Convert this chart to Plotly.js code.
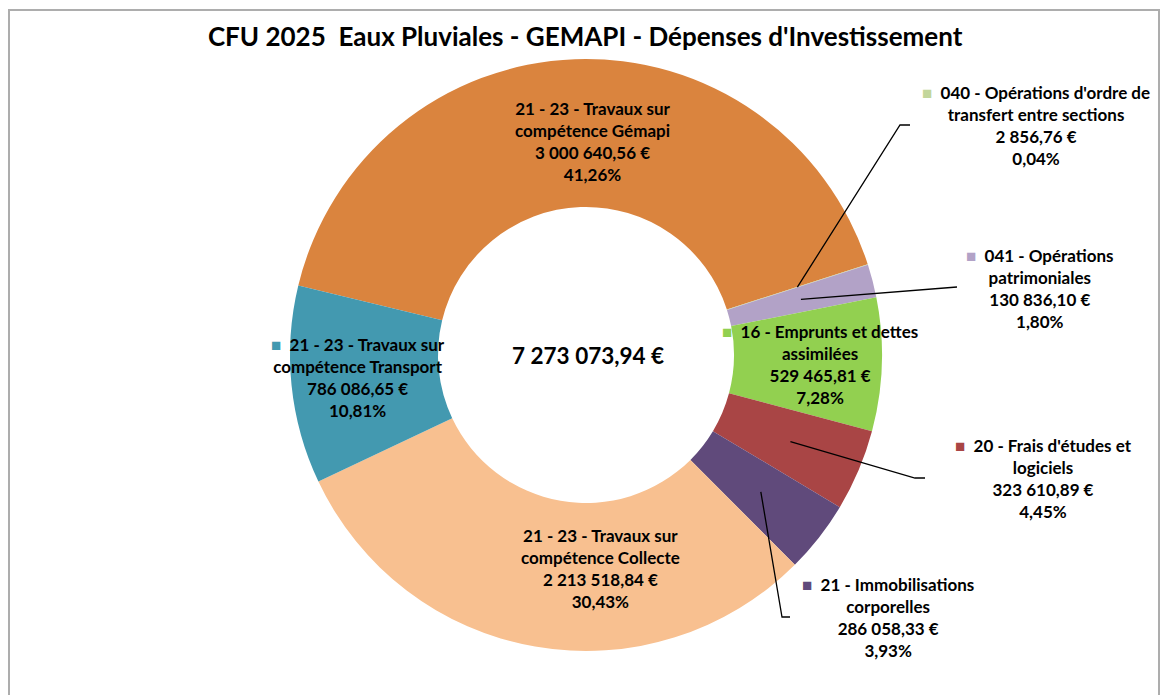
<!DOCTYPE html>
<html>
<head>
<meta charset="utf-8">
<script src="https://cdn.plot.ly/plotly-3.0.1.min.js"></script>
<style>
  body { margin: 0; background: #fff; }
  #chart { width: 1161px; height: 695px; }
</style>
</head>
<body>
<div id="chart"></div>
<script>
// postes de dépenses, dans l'ordre des secteurs (sens horaire)
var postes = [
    '21 - 23 - Travaux sur<br>compétence Gémapi',
    '040 - Opérations d\'ordre de<br>transfert entre sections',
    '041 - Opérations<br>patrimoniales',
    '16 - Emprunts et dettes<br>assimilées',
    '20 - Frais d\'études et<br>logiciels',
    '21 - Immobilisations<br>corporelles',
    '21 - 23 - Travaux sur<br>compétence Collecte',
    '21 - 23 - Travaux sur<br>compétence Transport'
];
var montants = [3000640.56, 2856.76, 130836.10, 529465.81, 323610.89, 286058.33, 2213518.84, 786086.65];
var couleurs = ['#DA843E', '#C3D69B', '#B2A2C7', '#92D050', '#A94545', '#604A7B', '#F8C090', '#4399B0'];
var avecCarre = [false, true, true, true, true, true, false, true];

var W = 1161, H = 695;
var cx = 586, cy = 355, R = 296;   // centre et rayon de l'anneau (px)
var rotation = 283.6;

// position des étiquettes (px) et coudes des traits de rappel
var etiquettes = [
    {x: 592, y: 141},
    {x: 1036, y: 125, trait: [[900, 125], [910, 125]]},
    {x: 1040, y: 288, trait: [[957, 287]]},
    {x: 820, y: 364},
    {x: 1043, y: 478, trait: [[915, 478], [925, 478]]},
    {x: 888, y: 617, trait: [[782, 617], [790, 617]]},
    {x: 600, y: 568},
    {x: 358, y: 377}
];

function euro(v) {
    var p = v.toFixed(2).split('.');
    return p[0].replace(/\B(?=(\d{3})+(?!\d))/g, ' ') + ',' + p[1] + ' €';
}
function px(x) { return x / W; }
function py(y) { return 1 - y / H; }

var total = montants.reduce(function(a, b) { return a + b; }, 0);

var annotations = [];
var shapes = [];
var cumul = 0;
montants.forEach(function(v, i) {
    var pct = (v / total * 100).toFixed(2).replace('.', ',') + '%';
    var texte = postes[i] + '<br>' + euro(v) + '<br>' + pct;
    if (avecCarre[i]) {
        texte = '<span style="color:' + couleurs[i] + ';font-size:17px">■</span>  ' + texte;
    }
    var e = etiquettes[i];
    annotations.push({
        x: px(e.x), y: py(e.y), xref: 'paper', yref: 'paper',
        text: texte, showarrow: false, align: 'center',
        xanchor: 'center', yanchor: 'middle',
        font: {family: 'Lato, sans-serif', size: 17, color: '#000', weight: 700}
    });

    // trait de rappel depuis le milieu du secteur
    var a = (rotation + 360 * (cumul + v / 2) / total) * Math.PI / 180;
    cumul += v;
    if (e.trait) {
        var x0 = cx + 0.75 * R * Math.sin(a), y0 = cy - 0.75 * R * Math.cos(a);
        var path = 'M' + px(x0) + ',' + py(y0);
        e.trait.forEach(function(p) { path += ' L' + px(p[0]) + ',' + py(p[1]); });
        shapes.push({type: 'path', xref: 'paper', yref: 'paper', path: path,
                     line: {color: '#000', width: 1.3}});
    }
});

// total au centre
annotations.push({
    x: px(cx + 2), y: py(cy), xref: 'paper', yref: 'paper',
    text: euro(total), showarrow: false,
    font: {family: 'Lato, sans-serif', size: 22.5, color: '#000', weight: 700}
});

// cadre
shapes.push({type: 'rect', xref: 'paper', yref: 'paper',
             x0: px(9), x1: px(1159), y0: py(720), y1: py(10),
             line: {color: '#ADADAD', width: 2}});

var trace = {
    type: 'pie',
    labels: postes.map(function(p) { return p.replace('<br>', ' '); }),
    values: montants,
    hole: 0.5,
    sort: false,
    direction: 'clockwise',
    rotation: rotation,
    textinfo: 'none',
    marker: {colors: couleurs, line: {width: 0}},
    domain: {x: [px(cx - R), px(cx + R)], y: [py(cy + R), py(cy - R)]},
    showlegend: false
};

var layout = {
    width: W, height: H,
    title: {
        text: 'CFU 2025  Eaux Pluviales - GEMAPI - Dépenses d\'Investissement',
        font: {family: 'Lato, sans-serif', size: 26, color: '#000', weight: 700},
        x: 0.504, xanchor: 'center', y: py(37), yanchor: 'middle'
    },
    margin: {l: 0, r: 0, t: 0, b: 0},
    paper_bgcolor: '#fff',
    annotations: annotations,
    shapes: shapes
};

Plotly.newPlot('chart', [trace], layout, {displayModeBar: false});
</script>
</body>
</html>
